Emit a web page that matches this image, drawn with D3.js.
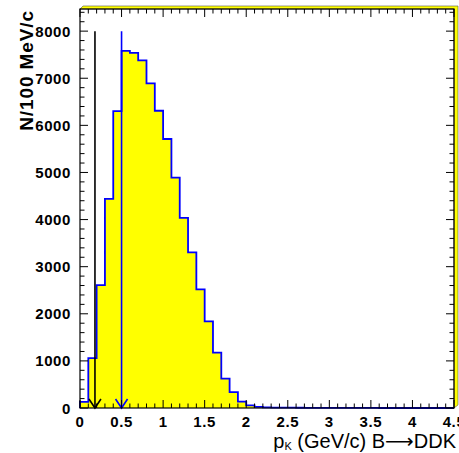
<!DOCTYPE html>
<html><head><meta charset="utf-8">
<script src="https://cdn.jsdelivr.net/npm/d3@7"></script>
<style>body{margin:0;background:#fff}svg{display:block}</style>
</head><body>
<script>
// ---- data ----
const binWidth = 0.1;
const binStarts = [0.0,0.1,0.2,0.3,0.4,0.5,0.6,0.7,0.8,0.9,1.0,1.1,1.2,1.3,1.4,1.5,1.6,1.7,1.8,1.9,2.0,2.1,2.2,2.3,2.4,2.5,2.6,2.7,2.8,2.9,3.0,3.1,3.2,3.3,3.4,3.5,3.6,3.7,3.8,3.9,4.0,4.1,4.2,4.3,4.4];
const counts = [130,1060,2610,4440,6300,7580,7540,7380,6890,6310,5710,4890,4035,3305,2520,1840,1175,625,337,134,55,25,15,10,8,6,5,4,3,3,2,2,1,1,1,1,0,0,0,0,0,0,0,0,0];
const xTickLabels = ["0","0.5","1","1.5","2","2.5","3","3.5","4","4.5"];
const yTickLabels = ["0","1000","2000","3000","4000","5000","6000","7000","8000"];
const arrowX = [0.18, 0.5];
const arrowTop = [8000, 8000];
const arrowColors = ["#000000", "#0000ff"];

const W = 459, H = 453;
const L = 80, R = 454, T = 9, B = 408;
const svg = d3.select("body").append("svg").attr("width", W).attr("height", H);

const x = d3.scaleLinear().domain([0, 4.5]).range([L, R]);
const y = d3.scaleLinear().domain([0, 8470]).range([B, T]);

// 3D yellow frame shadow
svg.append("path")
  .attr("d", `M${L},${T} L${L+3},${T-3} L${R+4},${T-3} L${R+4},${B-3} L${R},${B} L${R},${T} Z`)
  .attr("fill", "#ffff00").attr("stroke", "#555").attr("stroke-width", 0.6);

// histogram
const pts = [];
binStarts.forEach((s, i) => {
  pts.push([x(s), y(counts[i])]);
  pts.push([x(s + binWidth), y(counts[i])]);
});
const area = [[x(0), y(0)], ...pts, [x(binStarts[binStarts.length-1] + binWidth), y(0)]];
svg.append("path").attr("d", d3.line()(area)).attr("fill", "#ffff00").attr("stroke", "none");
const outline = [[x(0), y(0)], ...pts, [x(4.5), y(0)]];
svg.append("path").attr("d", d3.line()(outline)).attr("fill", "none")
  .attr("stroke", "#0000ff").attr("stroke-width", 1.8);

// arrows
arrowX.forEach((a, i) => {
  const g = svg.append("g").attr("stroke", arrowColors[i]).attr("stroke-width", 1.6).attr("fill", "none");
  g.append("line").attr("x1", x(a)).attr("x2", x(a)).attr("y1", y(arrowTop[i])).attr("y2", y(0));
  g.append("path").attr("d", `M${x(a)-6},${y(0)-9} L${x(a)},${y(0)} L${x(a)+6},${y(0)-9}`);
});

// frame
svg.append("rect").attr("x", L).attr("y", T).attr("width", R - L).attr("height", B - T)
  .attr("fill", "none").attr("stroke", "#000").attr("stroke-width", 1.2);

// ticks
const tk = svg.append("g").attr("stroke", "#000").attr("stroke-width", 1);
const xMinor = d3.range(0, 46).map(i => i * 0.1);
xMinor.forEach((v, i) => {
  const len = i % 5 === 0 ? 8 : 4.5;
  tk.append("line").attr("x1", x(v)).attr("x2", x(v)).attr("y1", B).attr("y2", B - len);
  tk.append("line").attr("x1", x(v)).attr("x2", x(v)).attr("y1", T).attr("y2", T + len);
});
const yMinor = d3.range(0, 43).map(i => i * 200);
yMinor.forEach((v, i) => {
  const len = i % 5 === 0 ? 8 : 4.5;
  tk.append("line").attr("y1", y(v)).attr("y2", y(v)).attr("x1", L).attr("x2", L + len);
  tk.append("line").attr("y1", y(v)).attr("y2", y(v)).attr("x1", R).attr("x2", R - len);
});

// tick labels
const fontTick = "Liberation Sans, Arial, sans-serif";
svg.append("g").selectAll("text").data(xTickLabels).join("text")
  .attr("x", d => x(+d)).attr("y", 427).attr("text-anchor", "middle")
  .attr("font-family", fontTick).attr("font-weight", "bold").attr("font-size", 15)
  .attr("letter-spacing", 0.6)
  .text(d => d);
svg.append("g").selectAll("text").data(yTickLabels).join("text")
  .attr("x", 71).attr("y", d => y(+d) + 5.5).attr("text-anchor", "end")
  .attr("font-family", fontTick).attr("font-weight", "bold").attr("font-size", 15)
  .attr("letter-spacing", 0.6)
  .text(d => d);

// axis titles
svg.append("text").attr("transform", "translate(33,10) rotate(-90)")
  .attr("text-anchor", "end").attr("font-family", fontTick).attr("font-weight", "bold")
  .attr("font-size", 19).attr("letter-spacing", 0.9).text("N/100 MeV/c");

const xt = svg.append("text").attr("x", 456).attr("y", 448).attr("text-anchor", "end")
  .attr("font-family", fontTick).attr("font-size", 20);
xt.append("tspan").text("p");
xt.append("tspan").attr("font-size", 11).attr("dy", 2).text("K");
xt.append("tspan").attr("dy", -2).text(" (GeV/c) B");
xt.append("tspan").attr("font-family", "DejaVu Sans").text("⟶");
xt.append("tspan").text("DDK");
</script>
</body></html>
